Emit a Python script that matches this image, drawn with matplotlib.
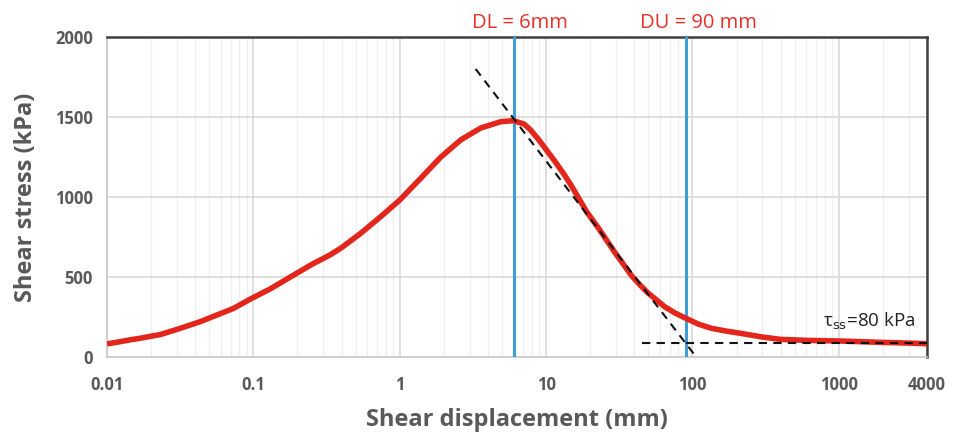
import matplotlib
matplotlib.use("Agg")
import matplotlib.pyplot as plt
from matplotlib.ticker import FixedLocator, NullFormatter

plt.rcParams['font.family'] = ['Open Sans', 'DejaVu Sans']

# Data
disp = [0.01, 0.0125, 0.015, 0.0168, 0.02, 0.0231, 0.0316, 0.0434, 0.0733, 0.0953,
        0.13, 0.179, 0.25, 0.337, 0.394, 0.45, 0.541, 0.741, 1.0, 1.39, 1.91, 2.62,
        3.59, 4.92, 6.0, 7.1, 7.9, 8.9, 10, 11.5, 13.3, 15, 16.5, 19, 22.6, 26, 29.4,
        34, 38.2, 44, 49.7, 57, 64.6, 76, 90, 110, 135, 170, 200, 300, 400, 600,
        1000, 1500, 2000, 3000, 4000]
stress = [82, 97, 110, 117, 130, 140, 179, 221, 304, 362,
          425, 500, 578, 640, 679, 718, 773, 877, 981, 1117, 1250, 1358,
          1432, 1471, 1477, 1455, 1415, 1358, 1296, 1222, 1140, 1065, 1000, 905, 810, 728, 655,
          575, 510, 448, 400, 355, 314, 275, 242, 205, 179, 162, 152, 125, 110, 104,
          100, 95, 91, 87, 83]

tangent_x = [3.3, 106]
tangent_y = [1800, 0]
steady_x = [45, 4000]
steady_y = [90, 90]
dl, du = 6, 90

xticks = [0.01, 0.1, 1, 10, 100, 1000, 4000]
xtick_labels = ["0.01", "0.1", "1", "10", "100", "1000", "4000"]
yticks = [0, 500, 1000, 1500, 2000]

fig = plt.figure(figsize=(9.57, 4.38), dpi=100)
ax = fig.add_axes([107/957, 81/438, 820/957, 320/438])
ax.set_xscale('log')
ax.set_xlim(0.01, 4000)
ax.set_ylim(0, 2000)

minors = []
for dec in [0.01, 0.1, 1, 10, 100, 1000]:
    for m in range(2, 10):
        v = dec * m
        if v < 4000:
            minors.append(v)
ax.xaxis.set_minor_locator(FixedLocator(minors))
ax.xaxis.set_minor_formatter(NullFormatter())
ax.set_xticks(xticks)
ax.set_xticklabels(xtick_labels)
ax.set_yticks(yticks)
ax.grid(True, which='major', color='#d9d9d9', lw=1.2, zorder=0)
ax.grid(True, which='minor', axis='x', color='#eeeeee', lw=0.9, zorder=0)
ax.tick_params(which='both', length=0)
ax.tick_params(axis='x', pad=14)
ax.tick_params(axis='y', pad=10)
for lab in ax.get_xticklabels() + ax.get_yticklabels():
    lab.set_fontweight('bold')
    lab.set_fontsize(12)
    lab.set_color('#595959')

for s in ['left', 'bottom']:
    ax.spines[s].set_color('#c8c8c8')
    ax.spines[s].set_linewidth(1.2)
for s in ['top', 'right']:
    ax.spines[s].set_color('#404040')
    ax.spines[s].set_linewidth(1.8)

ax.axvline(dl, color='#3d9fd6', lw=2.2, zorder=3)
ax.axvline(du, color='#3d9fd6', lw=2.2, zorder=3)
ax.plot(disp, stress, color='#e3261c', lw=4, solid_capstyle='butt',
        solid_joinstyle='round', zorder=4)
ax.plot(tangent_x, tangent_y, color='#111111', lw=1.5, ls=(0, (4, 3)), zorder=5, clip_on=True)
ax.plot(steady_x, steady_y, color='#111111', lw=1.5, ls=(0, (4, 3)), zorder=5)

ax.text(0.445, 1.012, "DL = 6mm", transform=ax.transAxes, color='#e8302a', fontsize=14.5,
        ha='left', va='bottom')
ax.text(0.650, 1.012, "DU = 90 mm", transform=ax.transAxes, color='#e8302a', fontsize=14.5,
        ha='left', va='bottom')
ax.text(1600, 225, r"τ$_{\rm ss}$=80 kPa", color='#222222', fontsize=13.5, ha='center', va='center')

ax.set_xlabel("Shear displacement (mm)", fontsize=17, fontweight='bold', color='#595959', labelpad=10)
ax.set_ylabel("Shear stress (kPa)", fontsize=17, fontweight='bold', color='#595959', labelpad=12)

fig.savefig("out.png", dpi=100)
